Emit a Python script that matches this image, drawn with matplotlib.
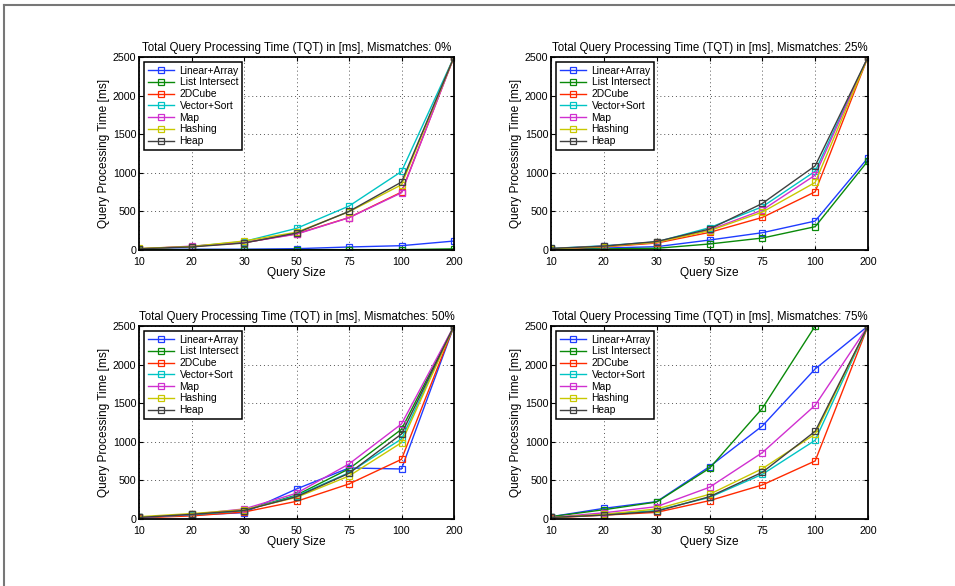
import matplotlib
matplotlib.use("Agg")
import matplotlib.pyplot as plt
from matplotlib.lines import Line2D

plt.rcParams["font.family"] = ["Liberation Sans", "DejaVu Sans"]

query_sizes = ["10", "20", "30", "50", "75", "100", "200"]
methods = ["Linear+Array", "List Intersect", "2DCube", "Vector+Sort", "Map", "Hashing", "Heap"]
colors = ["#1f3cff", "#0a8a0a", "#ff2a00", "#00c4c4", "#d030d0", "#c8c800", "#404040"]

# Query processing time [ms] per method, one list per mismatch level
tqt_0 = [
    [10, 10, 10, 17, 39, 56, 116],
    [5, 5, 5, 5, 5, 5, 15],
    [15, 45, 95, 210, 420, 750, 2500],
    [15, 45, 110, 280, 569, 1017, 2500],
    [15, 50, 95, 205, 418, 741, 2500],
    [20, 45, 116, 230, 495, 845, 2500],
    [15, 40, 90, 220, 500, 880, 2500],
]
tqt_25 = [
    [10, 25, 43, 129, 224, 375, 1194],
    [5, 15, 22, 78, 155, 302, 1155],
    [15, 40, 90, 228, 422, 754, 2500],
    [20, 55, 105, 289, 560, 1020, 2500],
    [15, 50, 100, 260, 517, 970, 2500],
    [15, 45, 100, 250, 491, 875, 2500],
    [20, 50, 110, 271, 603, 1090, 2500],
]
tqt_50 = [
    [20, 50, 82, 389, 661, 648, 2500],
    [20, 60, 110, 310, 650, 1162, 2500],
    [15, 40, 90, 229, 454, 773, 2500],
    [20, 55, 110, 300, 600, 1037, 2500],
    [20, 60, 130, 333, 713, 1231, 2500],
    [30, 70, 120, 280, 557, 989, 2500],
    [20, 60, 110, 289, 592, 1101, 2500],
]
tqt_75 = [
    [30, 138, 225, 678, 1205, 1944, 2500],
    [30, 120, 220, 657, 1434, 2500, 2500],
    [15, 50, 86, 238, 441, 752, 2500],
    [20, 60, 110, 280, 579, 1020, 2500],
    [20, 80, 160, 411, 860, 1473, 2500],
    [20, 60, 130, 320, 652, 1100, 2500],
    [20, 50, 100, 289, 605, 1136, 2500],
]
panels = [("0%", tqt_0), ("25%", tqt_25), ("50%", tqt_50), ("75%", tqt_75)]

W, H = 955, 586
fig = plt.figure(figsize=(W / 100, H / 100), dpi=100)

# axes boxes in pixels: left, top, right, bottom
boxes = [(139, 57, 454, 250), (551, 57, 868, 250),
         (139, 326, 454, 519), (551, 326, 868, 519)]

x = list(range(len(query_sizes)))
for (mm, data), (l, t, r, b) in zip(panels, boxes):
    ax = fig.add_axes([l / W, 1 - b / H, (r - l) / W, (b - t) / H])
    for name, col, vals in zip(methods, colors, data):
        ax.plot(x, vals, color=col, lw=1, marker="s", ms=4.5,
                mfc="none", mec=col, mew=0.9, label=name)
    ax.set_xlim(0, 6)
    ax.set_ylim(0, 2500)
    ax.set_xticks(x)
    ax.set_xticklabels(query_sizes)
    ax.set_yticks(range(0, 2501, 500))
    ax.tick_params(direction="in", length=3, labelsize=7.7, top=True, right=True)
    ax.tick_params(axis="x", pad=5)
    ax.tick_params(axis="y", pad=2)
    ax.grid(True, linestyle=(0, (1, 3)), color="#555555", lw=0.7)
    for s in ax.spines.values():
        s.set_linewidth(1.3)
    ax.set_title("Total Query Processing Time (TQT) in [ms], Mismatches: " + mm,
                 fontsize=8.3, pad=4)
    ax.set_xlabel("Query Size", fontsize=8.6, labelpad=0)
    ax.set_ylabel("Query Processing Time [ms]", fontsize=8.6, labelpad=2)
    leg = ax.legend(loc="upper left", fontsize=7.4, handlelength=2.6,
                    labelspacing=0.17, borderpad=0.35, handletextpad=0.5,
                    fancybox=False, framealpha=1, borderaxespad=0.5)
    leg.get_frame().set_edgecolor("black")
    leg.get_frame().set_linewidth(1.1)

# page edge lines (top and left)
fig.add_artist(Line2D([4 / W, 1], [1 - 5 / H, 1 - 5 / H], color="#777777", lw=1.5,
                      transform=fig.transFigure))
fig.add_artist(Line2D([4 / W, 4 / W], [0, 1 - 5 / H], color="#777777", lw=1.5,
                      transform=fig.transFigure))

fig.savefig("out.png", dpi=100)
